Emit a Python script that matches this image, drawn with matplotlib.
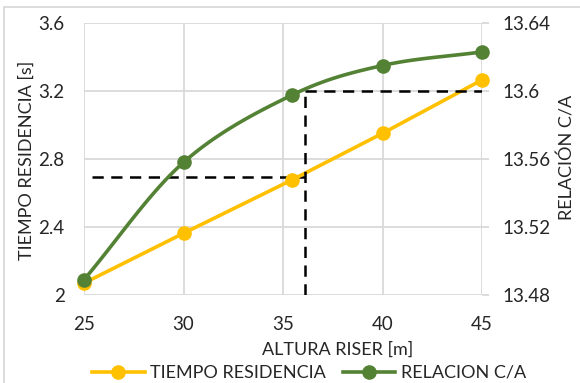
import numpy as np
import matplotlib
matplotlib.use("Agg")
import matplotlib.pyplot as plt
from matplotlib.lines import Line2D
from matplotlib.patches import Rectangle

plt.rcParams['font.family'] = ['Lato', 'DejaVu Sans']

altura = [25, 30, 35.45, 40, 45]
tiempo = [2.07, 2.363, 2.677, 2.951, 3.265]
relacion = [13.489, 13.558, 13.5976, 13.615, 13.623]

# guide lines for the chosen design point
x_sel = 36.1
t_sel = 2.696
r_sel = 13.60

amarillo = '#FFC000'
verde = '#548235'
gris = '#D9D9D9'
texto = '#262626'


def suavizar(x, y, n=30):
    # Catmull-Rom curve through the points, like a smoothed line
    x = np.asarray(x, float)
    y = np.asarray(y, float)
    px = np.concatenate([[2 * x[0] - x[1]], x, [2 * x[-1] - x[-2]]])
    py = np.concatenate([[2 * y[0] - y[1]], y, [2 * y[-1] - y[-2]]])
    xs, ys = [], []
    t = np.linspace(0, 1, n)
    for i in range(1, len(px) - 2):
        for arr, out in ((px, xs), (py, ys)):
            p0, p1, p2, p3 = arr[i - 1:i + 3]
            out.extend(0.5 * ((2 * p1) + (-p0 + p2) * t +
                              (2 * p0 - 5 * p1 + 4 * p2 - p3) * t ** 2 +
                              (-p0 + 3 * p1 - 3 * p2 + p3) * t ** 3))
    return np.array(xs), np.array(ys)


fig = plt.figure(figsize=(5.8, 3.83), dpi=100)
ax = fig.add_axes([84 / 580, 1 - 295 / 383, 398 / 580, 272 / 383])
ax2 = ax.twinx()

ax.set_xlim(25, 45)
ax.set_ylim(2, 3.6)
ax2.set_ylim(13.48, 13.64)
ax.set_xticks([25, 30, 35, 40, 45])
ax.set_yticks([2, 2.4, 2.8, 3.2, 3.6])
ax.set_yticklabels(['2', '2.4', '2.8', '3.2', '3.6'])
ax2.set_yticks([13.48, 13.52, 13.56, 13.6, 13.64])
ax2.set_yticklabels(['13.48', '13.52', '13.56', '13.6', '13.64'])

ax.grid(True, color=gris, lw=1.3)
ax.set_axisbelow(True)
for a in (ax, ax2):
    for s in a.spines.values():
        s.set_visible(False)
ax.tick_params(axis='both', length=0, labelsize=13.5, colors=texto)
ax.tick_params(axis='y', pad=14)
ax.tick_params(axis='x', pad=15)
ax2.tick_params(axis='y', length=5, width=1.3, color=gris, labelsize=13.5,
                pad=10)
for tl in ax2.get_yticklabels():
    tl.set_color(texto)

# dashed reading lines
guia = dict(color='black', lw=1.8, ls=(0, (4.5, 3)), zorder=3)
ax.plot([25.4, x_sel], [t_sel, t_sel], **guia)
ax2.plot([x_sel, x_sel], [13.48, r_sel], **guia)
ax2.plot([x_sel, 45], [r_sel, r_sel], **guia)

ax.plot(altura, tiempo, color=amarillo, lw=2.6, marker='o', ms=9.5,
        mfc=amarillo, mec=amarillo, zorder=4, clip_on=False)
xs, ys = suavizar(altura, relacion)
ax2.plot(xs, ys, color=verde, lw=2.6, zorder=5, clip_on=False)
ax2.plot(altura, relacion, ls='none', marker='o', ms=9.5, mfc=verde, mec=verde,
         zorder=6, clip_on=False)

fig.text(27 / 580, 1 - 160 / 383, 'TIEMPO RESIDENCIA [s]', fontsize=13,
         color=texto, rotation=90, ha='center', va='center')
fig.text(567 / 580, 1 - 157 / 383, 'RELACIÓN C/A', fontsize=13,
         color=texto, rotation=90, ha='center', va='center')
fig.text(338 / 580, 1 - 350 / 383, 'ALTURA RISER [m]', fontsize=13,
         color=texto, ha='center', va='center')

handles = [Line2D([], [], color=amarillo, lw=2.6, marker='o', ms=9.5),
           Line2D([], [], color=verde, lw=2.6, marker='o', ms=9.5)]
fig.legend(handles, ['TIEMPO RESIDENCIA', 'RELACION C/A'], loc='center',
           bbox_to_anchor=(309 / 580, 1 - 373 / 383), ncol=2, frameon=False,
           fontsize=13, handlelength=2.9, columnspacing=0.95,
           handletextpad=0.3, labelcolor=texto, borderpad=0)

# chart border
fig.patches.append(Rectangle((4 / 580, -0.05), 1.1, 1 - 7 / 383 + 0.05,
                             transform=fig.transFigure, fill=False,
                             edgecolor=gris, lw=1.3))

fig.savefig('out.png', dpi=100)
